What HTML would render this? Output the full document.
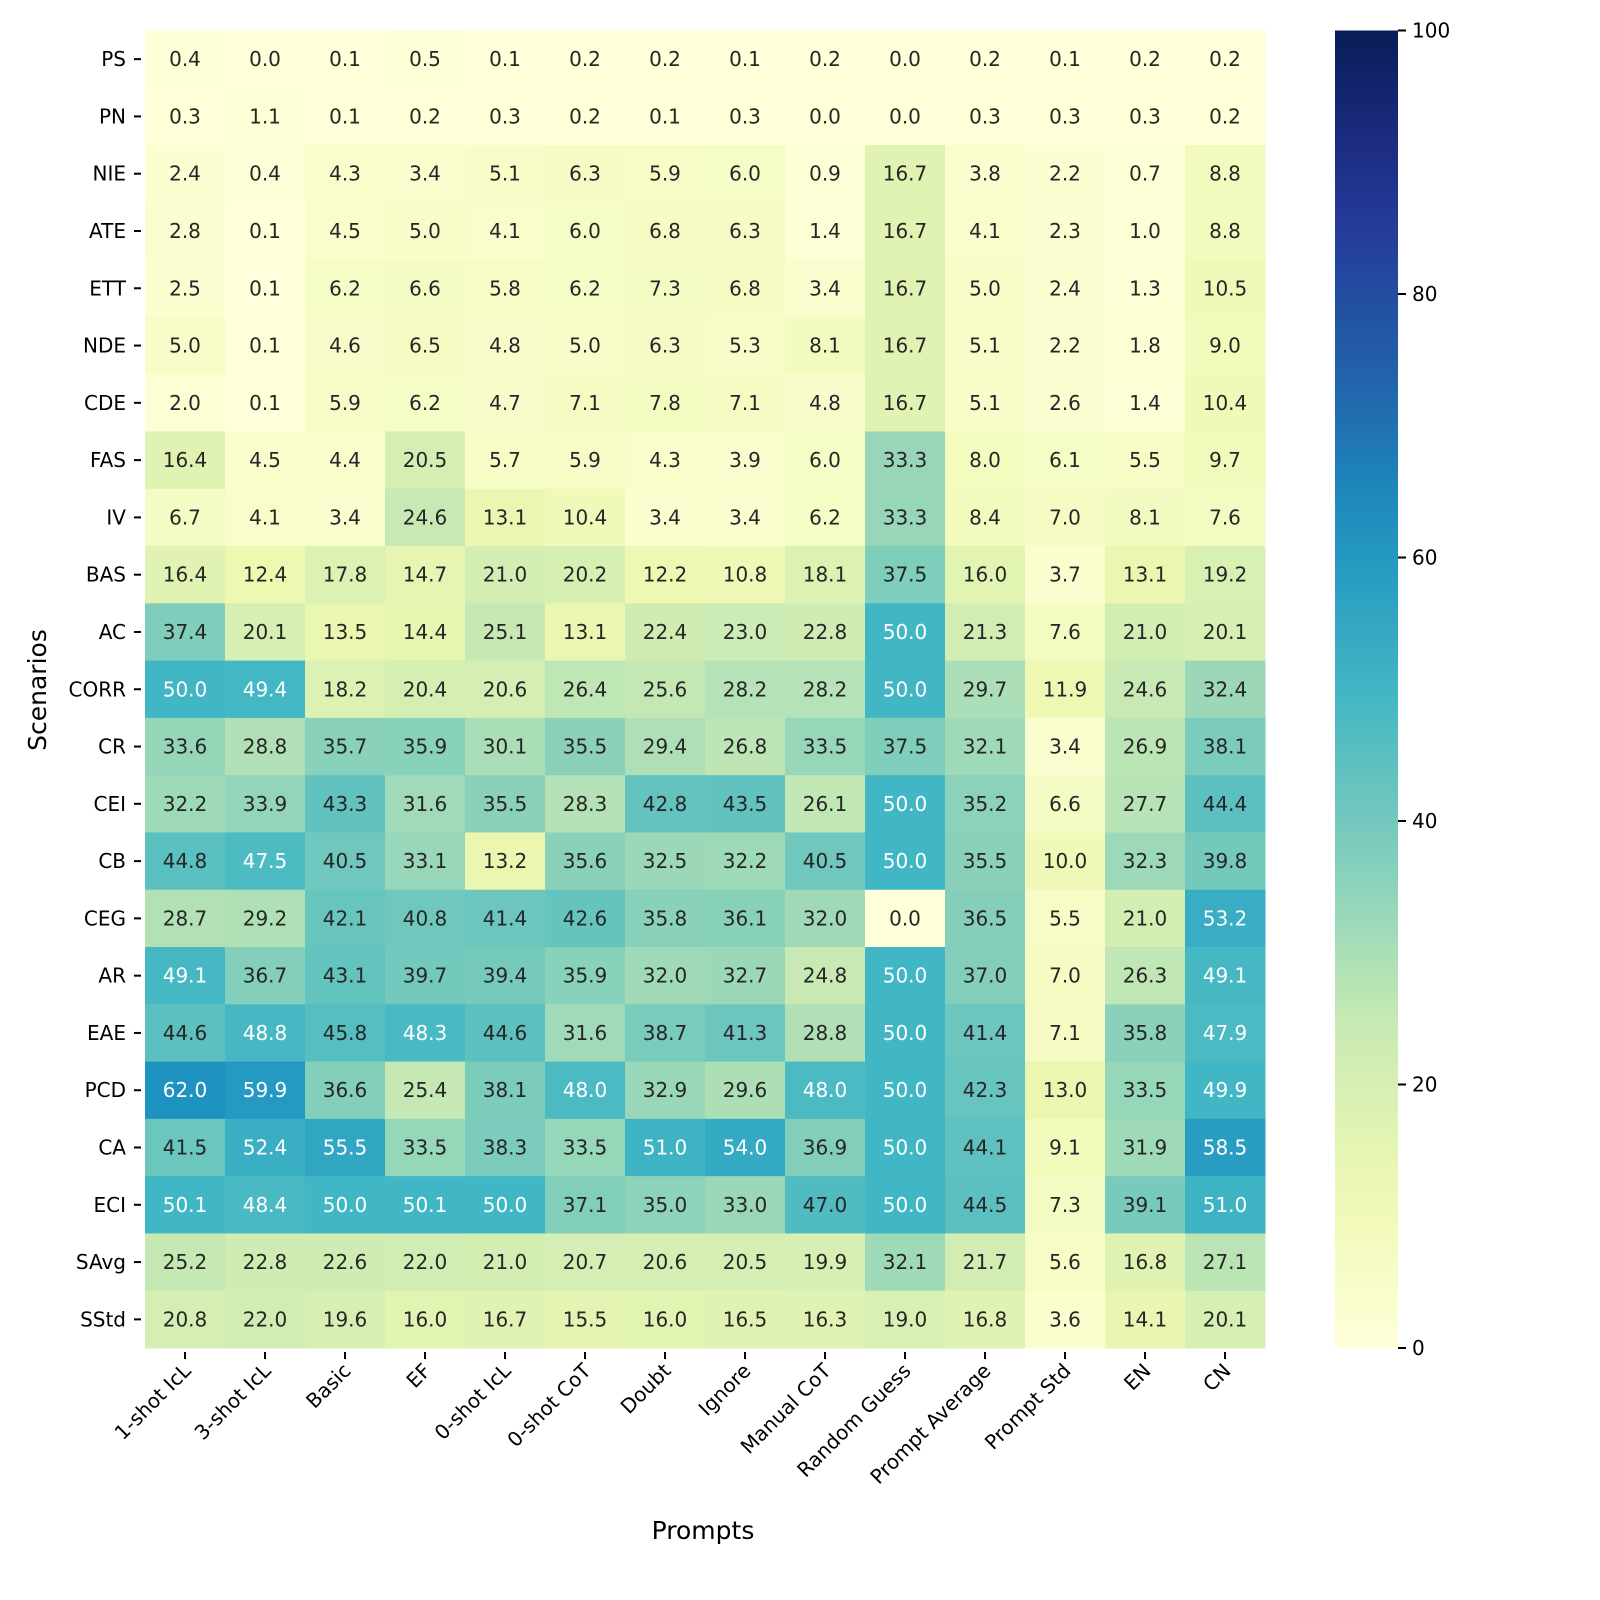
<!DOCTYPE html>
<html><head><meta charset="utf-8">
<style>
html,body{margin:0;padding:0;background:#fff;}
svg{display:block;font-family:"DejaVu Sans","Liberation Sans",sans-serif;}
</style></head>
<body>
<svg id="chart" width="1600" height="1600" viewBox="0 0 1600 1600" xmlns="http://www.w3.org/2000/svg"></svg>
<script>
const rows = ["PS","PN","NIE","ATE","ETT","NDE","CDE","FAS","IV","BAS","AC","CORR","CR","CEI","CB","CEG","AR","EAE","PCD","CA","ECI","SAvg","SStd"];
const cols = ["1-shot IcL","3-shot IcL","Basic","EF","0-shot IcL","0-shot CoT","Doubt","Ignore","Manual CoT","Random Guess","Prompt Average","Prompt Std","EN","CN"];
const values = [
[0.4,0.0,0.1,0.5,0.1,0.2,0.2,0.1,0.2,0.0,0.2,0.1,0.2,0.2],
[0.3,1.1,0.1,0.2,0.3,0.2,0.1,0.3,0.0,0.0,0.3,0.3,0.3,0.2],
[2.4,0.4,4.3,3.4,5.1,6.3,5.9,6.0,0.9,16.7,3.8,2.2,0.7,8.8],
[2.8,0.1,4.5,5.0,4.1,6.0,6.8,6.3,1.4,16.7,4.1,2.3,1.0,8.8],
[2.5,0.1,6.2,6.6,5.8,6.2,7.3,6.8,3.4,16.7,5.0,2.4,1.3,10.5],
[5.0,0.1,4.6,6.5,4.8,5.0,6.3,5.3,8.1,16.7,5.1,2.2,1.8,9.0],
[2.0,0.1,5.9,6.2,4.7,7.1,7.8,7.1,4.8,16.7,5.1,2.6,1.4,10.4],
[16.4,4.5,4.4,20.5,5.7,5.9,4.3,3.9,6.0,33.3,8.0,6.1,5.5,9.7],
[6.7,4.1,3.4,24.6,13.1,10.4,3.4,3.4,6.2,33.3,8.4,7.0,8.1,7.6],
[16.4,12.4,17.8,14.7,21.0,20.2,12.2,10.8,18.1,37.5,16.0,3.7,13.1,19.2],
[37.4,20.1,13.5,14.4,25.1,13.1,22.4,23.0,22.8,50.0,21.3,7.6,21.0,20.1],
[50.0,49.4,18.2,20.4,20.6,26.4,25.6,28.2,28.2,50.0,29.7,11.9,24.6,32.4],
[33.6,28.8,35.7,35.9,30.1,35.5,29.4,26.8,33.5,37.5,32.1,3.4,26.9,38.1],
[32.2,33.9,43.3,31.6,35.5,28.3,42.8,43.5,26.1,50.0,35.2,6.6,27.7,44.4],
[44.8,47.5,40.5,33.1,13.2,35.6,32.5,32.2,40.5,50.0,35.5,10.0,32.3,39.8],
[28.7,29.2,42.1,40.8,41.4,42.6,35.8,36.1,32.0,0.0,36.5,5.5,21.0,53.2],
[49.1,36.7,43.1,39.7,39.4,35.9,32.0,32.7,24.8,50.0,37.0,7.0,26.3,49.1],
[44.6,48.8,45.8,48.3,44.6,31.6,38.7,41.3,28.8,50.0,41.4,7.1,35.8,47.9],
[62.0,59.9,36.6,25.4,38.1,48.0,32.9,29.6,48.0,50.0,42.3,13.0,33.5,49.9],
[41.5,52.4,55.5,33.5,38.3,33.5,51.0,54.0,36.9,50.0,44.1,9.1,31.9,58.5],
[50.1,48.4,50.0,50.1,50.0,37.1,35.0,33.0,47.0,50.0,44.5,7.3,39.1,51.0],
[25.2,22.8,22.6,22.0,21.0,20.7,20.6,20.5,19.9,32.1,21.7,5.6,16.8,27.1],
[20.8,22.0,19.6,16.0,16.7,15.5,16.0,16.5,16.3,19.0,16.8,3.6,14.1,20.1]
];
const cbarTicks = [0,20,40,60,80,100];

const NS="http://www.w3.org/2000/svg";
const svg=document.getElementById('chart');
const L=145,R=1265,T=30.5,B=1348;
const vmin=0,vmax=100;
const cw=(R-L)/cols.length, rh=(B-T)/rows.length;
const xc=i=>L+cw*(i+0.5);
const yc=j=>T+rh*(j+0.5);
const stops=["#ffffd9","#edf8b1","#c7e9b4","#7fcdbb","#41b6c4","#1d91c0","#225ea8","#253494","#081d58"];
function hex(h){return [1,3,5].map(k=>parseInt(h.substr(k,2),16));}
function cmap(v){
  let t=Math.max(0,Math.min(1,(v-vmin)/(vmax-vmin)))*(stops.length-1);
  let k=Math.min(Math.floor(t),stops.length-2),f=t-k;
  let a=hex(stops[k]),b=hex(stops[k+1]);
  return "rgb("+a.map((x,i)=>Math.round(x+(b[i]-x)*f)).join(",")+")";
}
function el(tag,attrs,parent){const e=document.createElementNS(NS,tag);for(const k in attrs)e.setAttribute(k,attrs[k]);(parent||svg).appendChild(e);return e;}

const gCells=el('g',{});


rows.forEach((r,j)=>{
  cols.forEach((c,i)=>{
    const v=values[j][i];
    const rect=el('rect',{x:L+cw*i,y:T+rh*j,width:cw+0.5,height:rh+0.5,fill:cmap(v)},gCells);
    
    
    const t=el('text',{x:xc(i),y:yc(j)+7,'text-anchor':'middle','font-size':20,fill:v>47.2?'#ffffff':'#262626'},gCells);
    
    
    t.textContent=v.toFixed(1);
  });
});

rows.forEach((r,j)=>{
  const ln=el('line',{x1:134,x2:141,y1:yc(j),y2:yc(j),stroke:'#000','stroke-width':2});
  
  
  const t=el('text',{x:126,y:yc(j)+7,'text-anchor':'end','font-size':20,fill:'#000'});
  
  
  t.textContent=r;
});
cols.forEach((c,i)=>{
  const ln=el('line',{x1:xc(i),x2:xc(i),y1:1352,y2:1359,stroke:'#000','stroke-width':2});
  
  
  const t=el('text',{x:0,y:0,'text-anchor':'end','font-size':20,fill:'#000',transform:'translate('+(xc(i)+7)+',1372) rotate(-45)'});
  
  
  t.textContent=c;
});
const yt=el('text',{x:0,y:0,'text-anchor':'middle','font-size':25,fill:'#000',transform:'translate(46,690) rotate(-90)'});


yt.textContent='Scenarios';
const xt=el('text',{x:703,y:1539,'text-anchor':'middle','font-size':25,fill:'#000'});


xt.textContent='Prompts';

const CX=1335,CW=63;
const defs=el('defs',{});
const grad=el('linearGradient',{id:'cb',x1:0,y1:1,x2:0,y2:0},defs);
for(let k=0;k<=20;k++){el('stop',{offset:(k/20),'stop-color':cmap(vmin+(vmax-vmin)*k/20)},grad);}
const cb=el('rect',{x:CX,y:T,width:CW,height:B-T,fill:'url(#cb)'});


const cy=v=>B-(v-vmin)/(vmax-vmin)*(B-T);
cbarTicks.forEach(v=>{
  const ln=el('line',{x1:CX+CW,x2:CX+CW+8,y1:cy(v),y2:cy(v),stroke:'#000','stroke-width':2});
  
  
  const t=el('text',{x:CX+CW+14,y:cy(v)+7,'font-size':20,fill:'#000'});
  
  
  t.textContent=v;
});
</script>
</body></html>
